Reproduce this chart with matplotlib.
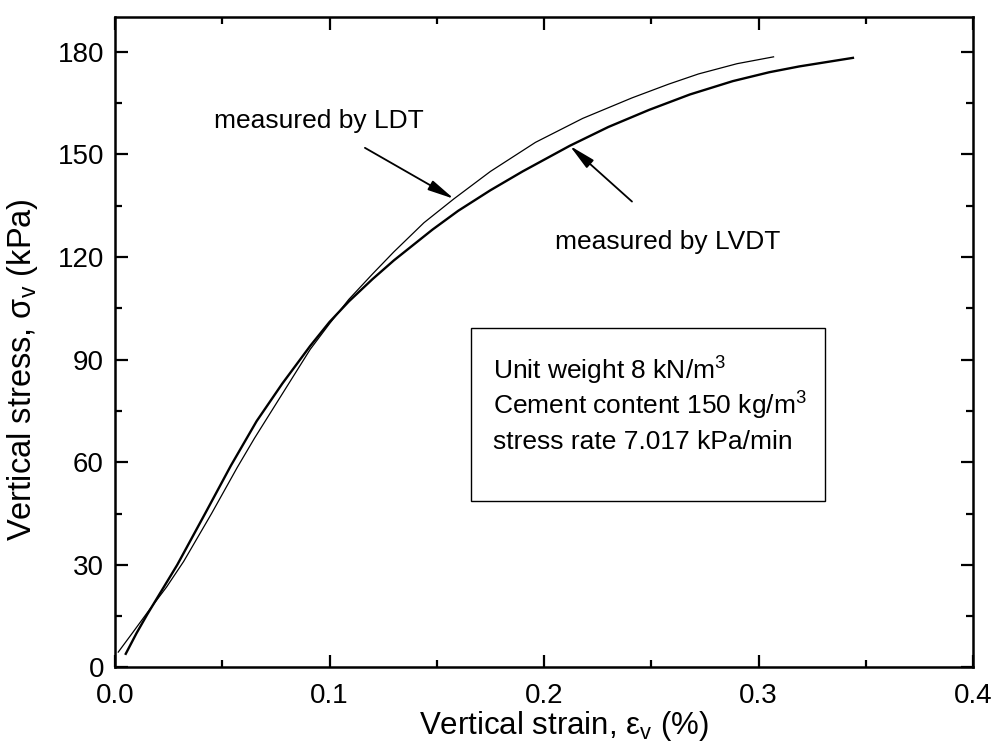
import matplotlib
matplotlib.use("Agg")
import matplotlib.pyplot as plt
from matplotlib.patches import Rectangle
from matplotlib.ticker import MultipleLocator

plt.rcParams['font.family'] = ['Liberation Sans', 'DejaVu Sans']
plt.rcParams['mathtext.fontset'] = 'custom'
plt.rcParams['mathtext.rm'] = 'Liberation Sans'
plt.rcParams['mathtext.it'] = 'Liberation Sans:italic'

# stress-strain curves, strain in %, stress in kPa
ldt_strain = [0.0015, 0.008, 0.015, 0.024, 0.032, 0.045, 0.057, 0.065, 0.071,
              0.080, 0.091, 0.100, 0.109, 0.120, 0.130, 0.144, 0.158, 0.175,
              0.196, 0.218, 0.241, 0.258, 0.272, 0.290, 0.307]
ldt_stress = [4.5, 10.0, 16.0, 23.5, 31.0, 45.0, 58.5, 67.0, 73.0,
              82.0, 93.0, 100.5, 107.6, 115.0, 121.5, 130.0, 137.0, 145.0,
              153.5, 160.5, 166.5, 170.5, 173.5, 176.5, 178.5]

lvdt_strain = [0.005, 0.010, 0.015, 0.029, 0.042, 0.054, 0.066, 0.078, 0.091,
               0.100, 0.109, 0.120, 0.130, 0.140, 0.148, 0.160, 0.175, 0.190,
               0.212, 0.230, 0.249, 0.268, 0.288, 0.305, 0.319, 0.332, 0.344]
lvdt_stress = [4.0, 10.0, 15.5, 30.0, 45.0, 59.0, 72.0, 83.0, 94.0,
               101.0, 107.0, 113.5, 119.0, 124.0, 128.0, 133.5, 139.5, 145.0,
               152.5, 158.0, 163.0, 167.5, 171.4, 174.0, 175.7, 177.0, 178.2]

info_lines = ['Unit weight 8 kN/m$^3$',
              'Cement content 150 kg/m$^3$',
              'stress rate 7.017 kPa/min']


def main():
    fig = plt.figure(figsize=(10.02, 7.51), dpi=100)
    ax = fig.add_axes([0.1148, 0.1112, 0.8563, 0.8655])

    ax.plot(lvdt_strain, lvdt_stress, color='black', lw=1.7)
    ax.plot(ldt_strain, ldt_stress, color='black', lw=0.9)

    ax.set_xlim(0, 0.4)
    ax.set_ylim(0, 190)
    ax.xaxis.set_major_locator(MultipleLocator(0.1))
    ax.xaxis.set_minor_locator(MultipleLocator(0.05))
    ax.yaxis.set_major_locator(MultipleLocator(30))
    ax.yaxis.set_minor_locator(MultipleLocator(15))
    ax.set_xticklabels(['%.1f' % v for v in ax.get_xticks()])
    ax.tick_params(which='both', direction='in', top=True, right=True,
                   width=1.6, labelsize=20, pad=8)
    ax.tick_params(axis='x', which='major', pad=11)
    ax.tick_params(which='major', length=9)
    ax.tick_params(which='minor', length=5)
    for s in ax.spines.values():
        s.set_linewidth(1.8)

    ax.set_xlabel('Vertical strain, ε$_\\mathrm{v}$ (%)', fontsize=22.5)
    ax.set_ylabel('Vertical stress, σ$_\\mathrm{v}$ (kPa)', fontsize=23.5)
    ax.xaxis.set_label_coords(0.523, -0.064)
    ax.yaxis.set_label_coords(-0.088, 0.458)

    # arrows pointing at each curve
    head = '-|>,head_length=0.8,head_width=0.16'
    ax.text(0.046, 159.6, 'measured by LDT', fontsize=19, va='center')
    ax.annotate('', xy=(0.158, 137.0), xytext=(0.1165, 151.9),
                arrowprops=dict(arrowstyle=head, color='black', lw=1.3,
                                mutation_scale=20, shrinkA=0, shrinkB=0))
    ax.text(0.205, 124.5, 'measured by LVDT', fontsize=19, va='center')
    ax.annotate('', xy=(0.212, 152.5), xytext=(0.241, 136.2),
                arrowprops=dict(arrowstyle=head, color='black', lw=1.3,
                                mutation_scale=20, shrinkA=0, shrinkB=0))

    # test conditions box
    ax.add_patch(Rectangle((0.166, 48.7), 0.165, 50.5, fill=False,
                           edgecolor='black', lw=1.0))
    for i, line in enumerate(info_lines):
        ax.text(0.176, 86.8 - i * 10.4, line, fontsize=19, va='center')

    fig.savefig('out.png', dpi=100)


if __name__ == '__main__':
    main()
